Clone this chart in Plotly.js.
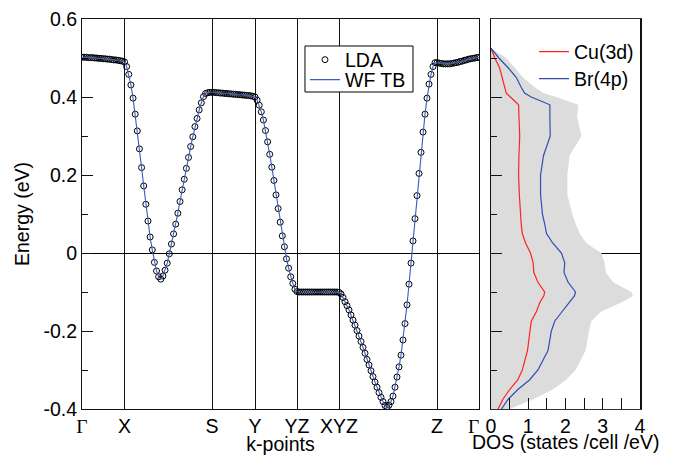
<!DOCTYPE html>
<html><head><meta charset="utf-8">
<script src="https://cdn.plot.ly/plotly-3.0.1.min.js"></script>
<style>html,body{margin:0;padding:0;background:#fff}</style>
</head><body><div id="chart" style="width:679px;height:455px"></div>
<script>
// High-symmetry k-points (path coordinate) and labels
const kLabels = ['Γ','X','S','Y','YZ','XYZ','Z','Γ'];
const kPos = [0, 0.425, 1.30, 1.73, 2.15, 2.57, 3.55, 3.97];

// Band energies (eV) read along each segment of the path (endpoints included)
const bandGX = [0.502,0.502,0.502,0.501,0.501,0.501,0.500,0.500,0.499,0.499,0.498,0.498,0.497,0.497,0.496,0.495,0.495,0.494,0.493,0.492,0.490];
const bandXS = [0.490,0.478,0.458,0.431,0.397,0.356,0.313,0.267,0.219,0.172,0.125,0.082,0.041,0.008,-0.024,-0.046,-0.061,-0.067,-0.059,-0.044,-0.026,-0.002,0.023,0.049,0.074,0.102,0.132,0.162,0.189,0.217,0.245,0.273,0.298,0.324,0.345,0.367,0.385,0.401,0.409,0.411,0.412,0.412];
const bandSY = [0.412,0.412,0.411,0.411,0.410,0.410,0.409,0.409,0.408,0.408,0.407,0.407,0.406,0.406,0.405,0.405,0.404,0.404,0.403,0.402,0.400];
const bandYYZ = [0.400,0.392,0.379,0.362,0.341,0.314,0.285,0.253,0.220,0.186,0.149,0.114,0.079,0.044,0.016,-0.015,-0.039,-0.061,-0.078,-0.093,-0.099];
const bandYZXYZ = [-0.099,-0.100,-0.100,-0.100,-0.100,-0.100,-0.100,-0.100,-0.100,-0.100,-0.100,-0.100,-0.100,-0.100,-0.100,-0.100,-0.100,-0.100,-0.100,-0.100,-0.101];
const bandXYZZ = [-0.101,-0.105,-0.114,-0.125,-0.135,-0.146,-0.159,-0.172,-0.185,-0.199,-0.213,-0.227,-0.242,-0.257,-0.273,-0.287,-0.302,-0.317,-0.331,-0.344,-0.358,-0.370,-0.381,-0.391,-0.396,-0.390,-0.381,-0.367,-0.344,-0.318,-0.292,-0.262,-0.223,-0.181,-0.133,-0.080,-0.026,0.031,0.088,0.147,0.204,0.258,0.310,0.356,0.397,0.433,0.458,0.478,0.488,0.488];
const bandZG = [0.488,0.487,0.486,0.485,0.485,0.485,0.485,0.486,0.487,0.488,0.489,0.491,0.492,0.494,0.495,0.497,0.498,0.499,0.500,0.501,0.502];

// DOS (states/cell/eV) read at these energies
const dosE   = [0.525,0.5,0.475,0.45,0.425,0.41,0.4,0.38,0.35,0.3,0.25,0.2,0.15,0.1,0.075,0.05,0.025,0,-0.025,-0.05,-0.075,-0.1,-0.11,-0.125,-0.15,-0.175,-0.2,-0.25,-0.3,-0.325,-0.35,-0.375,-0.4];
const totDOS = [0,0.41,0.64,0.86,1.17,1.40,1.75,2.34,2.31,2.43,2.11,2.05,2.05,2.18,2.27,2.38,2.56,2.96,3.05,3.08,3.28,3.77,3.81,3.54,2.96,2.69,2.63,2.54,2.27,2.02,1.66,1.13,0.50];
const cuDOS  = [0,0.10,0.23,0.30,0.37,0.41,0.52,0.74,0.75,0.77,0.75,0.74,0.76,0.79,0.81,0.84,0.93,1.06,1.13,1.15,1.26,1.44,1.42,1.32,1.22,1.08,1.04,0.98,0.84,0.72,0.50,0.32,0.19];
const brDOS  = [0,0.21,0.46,0.68,0.81,0.90,1.08,1.58,1.58,1.59,1.41,1.33,1.33,1.38,1.44,1.49,1.66,1.89,1.98,1.96,2.07,2.27,2.24,2.11,1.91,1.71,1.62,1.53,1.26,1.04,0.72,0.46,0.28];

const yTickVals = [-0.4,-0.2,0,0.2,0.4,0.6];
const yTickText = ['-0.4','-0.2','0','0.2','0.4','0.6'];

// Assemble k-path: k-points evenly spaced within each segment
const segments = [bandGX, bandXS, bandSY, bandYYZ, bandYZXYZ, bandXYZZ, bandZG];
const kPath = [], ePath = [];
segments.forEach((seg, s) => {
  const k0 = kPos[s], k1 = kPos[s+1], n = seg.length - 1;
  seg.forEach((e, j) => {
    if (s > 0 && j === 0) return;
    kPath.push(k0 + (k1 - k0) * j / n);
    ePath.push(e);
  });
});

const FONT = 'Liberation Sans, Arial, Helvetica, sans-serif';
const FS = 19.5;
const serifG = '<span style="font-family:Liberation Serif,Times New Roman,serif">Γ</span>';
const kTickText = kLabels.map((l, i) => l === 'Γ' ? (i === kLabels.length - 1 ? serifG + '\u00a0\u00a0' : serifG) : l);

const traces = [
  {x: kPath, y: ePath, type: 'scatter', mode: 'markers', name: 'LDA',
   marker: {symbol: 'circle-open', size: 6, color: '#000', line: {width: 1, color: '#000'}},
   xaxis: 'x', yaxis: 'y', legend: 'legend'},
  {x: kPath, y: ePath, type: 'scatter', mode: 'lines', name: 'WF TB',
   line: {color: '#3a5cc0', width: 1.1},
   xaxis: 'x', yaxis: 'y', legend: 'legend3'},
  {x: totDOS, y: dosE, type: 'scatter', mode: 'lines', fill: 'tozerox',
   fillcolor: '#dcdcdc', line: {width: 0, color: '#dcdcdc'}, showlegend: false,
   xaxis: 'x2', yaxis: 'y2'},
  {x: cuDOS, y: dosE, type: 'scatter', mode: 'lines', name: 'Cu(3d)',
   line: {color: '#ff2222', width: 1.2}, xaxis: 'x2', yaxis: 'y2', legend: 'legend2'},
  {x: brDOS, y: dosE, type: 'scatter', mode: 'lines', name: 'Br(4p)',
   line: {color: '#2f4db3', width: 1.2}, xaxis: 'x2', yaxis: 'y2', legend: 'legend4'}
];

const legBase = {xanchor: 'left', yanchor: 'middle', bgcolor: 'rgba(0,0,0,0)', borderwidth: 0, font: {size: FS}};

const layout = {
  width: 679, height: 455,
  margin: {l: 82, r: 39, t: 19, b: 46},
  paper_bgcolor: '#fff', plot_bgcolor: 'rgba(0,0,0,0)',
  font: {family: FONT, size: FS, color: '#000'},
  showlegend: true,
  xaxis: {
    domain: [0, 0.7115], range: [kPos[0], kPos[kPos.length-1]],
    tickmode: 'array', tickvals: kPos, ticktext: kTickText,
    ticks: '', showgrid: true, gridcolor: '#111', gridwidth: 1,
    showline: true, mirror: true, linecolor: '#111', linewidth: 1,
    zeroline: false, tickfont: {size: FS},
    title: {text: 'k-points', font: {size: FS}, standoff: 3},
    anchor: 'y', fixedrange: true
  },
  yaxis: {
    domain: [0, 1], range: [-0.4, 0.6],
    tickmode: 'array', tickvals: yTickVals, ticktext: yTickText,
    ticks: 'inside', ticklen: 11, tickcolor: '#111',
    minor: {tickmode: 'linear', tick0: 0, dtick: 0.1, ticks: 'inside', ticklen: 6, tickcolor: '#111', showgrid: false},
    showgrid: false, zeroline: true, zerolinecolor: '#000', zerolinewidth: 1,
    showline: true, mirror: true, linecolor: '#111', linewidth: 1,
    tickfont: {size: FS},
    title: {text: 'Energy (eV)', font: {size: FS}, standoff: 8},
    anchor: 'x'
  },
  xaxis2: {
    domain: [0.733, 1], range: [0, 4],
    tickmode: 'linear', tick0: 0, dtick: 1,
    ticks: 'inside', ticklen: 11, tickcolor: '#111',
    minor: {tickmode: 'linear', tick0: 0, dtick: 0.5, ticks: 'inside', ticklen: 11, tickcolor: '#111', showgrid: false},
    showgrid: false, zeroline: false,
    showline: true, mirror: true, linecolor: '#333', linewidth: 1,
    tickfont: {size: FS},
    anchor: 'y2'
  },
  yaxis2: {
    domain: [0, 1], range: [-0.4, 0.6],
    tickmode: 'array', tickvals: yTickVals, showticklabels: false,
    ticks: 'inside', ticklen: 11, tickcolor: '#111',
    minor: {tickmode: 'linear', tick0: 0, dtick: 0.1, ticks: 'inside', ticklen: 6, tickcolor: '#111', showgrid: false},
    showgrid: false, zeroline: true, zerolinecolor: '#000', zerolinewidth: 1,
    showline: true, mirror: true, linecolor: '#111', linewidth: 1.5,
    anchor: 'x2'
  },
  annotations: [{
    text: 'DOS (states /cell /eV)', xref: 'x2 domain', x: 0.5, yref: 'paper', y: 0,
    xanchor: 'center', yanchor: 'top', yshift: -21, showarrow: false, font: {size: FS}, borderpad: 0
  }],
  // legend frame of the band panel
  shapes: [{type: 'rect', xref: 'paper', yref: 'paper', x0: 0.3996, x1: 0.5932, y0: 0.8128, y1: 0.9308,
            fillcolor: '#fff', line: {color: '#000', width: 1}, layer: 'above'}],
  legend:  Object.assign({}, legBase, {x: 0.3996, y: 0.8949}),
  legend3: Object.assign({}, legBase, {x: 0.3996, y: 0.8436}),
  legend2: Object.assign({}, legBase, {x: 0.810, y: 0.9155}),
  legend4: Object.assign({}, legBase, {x: 0.810, y: 0.8463})
};

Plotly.newPlot('chart', traces, layout, {staticPlot: true, displayModeBar: false});
</script>
</body></html>
